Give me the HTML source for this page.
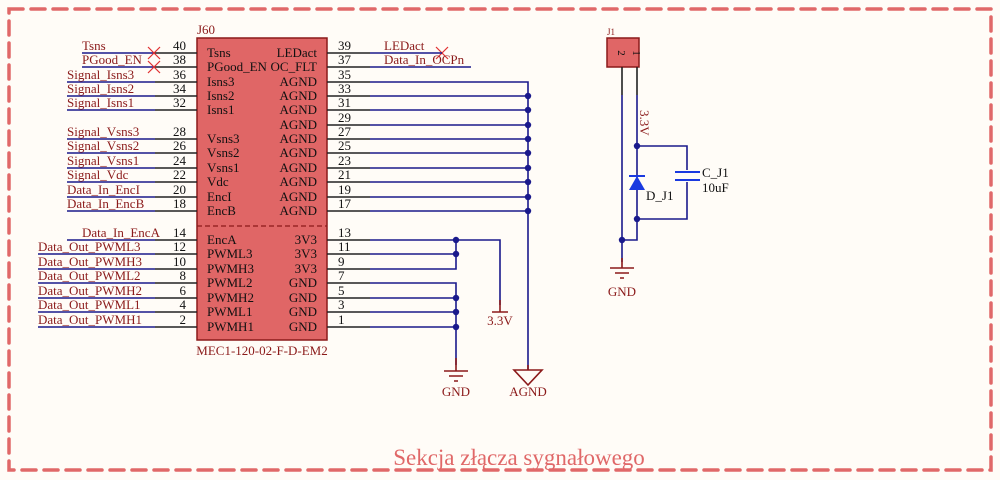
<!DOCTYPE html>
<html><head><meta charset="utf-8"><style>
html,body{margin:0;padding:0;background:#fffcf7;}
svg{display:block;font-family:"Liberation Serif",serif;}
.t{font-size:13px;fill:#8b1a1a}
.n{font-size:13px;fill:#111}
.w{stroke:#1a1a8c;stroke-width:1.6;fill:none}
.p{stroke:#222;stroke-width:1.6}
.r{stroke:#8b1a1a;stroke-width:1.6;fill:none}
.d{fill:#1a1a8c}
</style></head><body>
<svg width="1000" height="480" viewBox="0 0 1000 480">
<rect x="9" y="9" width="982" height="461" fill="none" stroke="#e06868" stroke-width="3.5" stroke-dasharray="14 8" stroke-linecap="round"/>
<text x="519" y="465" text-anchor="middle" font-size="23" fill="#e06868">Sekcja złącza sygnałowego</text>

<rect x="197" y="38" width="130" height="302" fill="#e06666" stroke="#8b1a1a" stroke-width="1.5"/>
<line x1="197" y1="226" x2="327" y2="226" stroke="#8b1a1a" stroke-width="1.3" stroke-dasharray="5 3"/>
<text x="197" y="34" class="t">J60</text>
<text x="262" y="355" class="t" text-anchor="middle">MEC1-120-02-F-D-EM2</text>

<g>
<line x1="155" y1="53" x2="197" y2="53" class="p"/><line x1="82" y1="53" x2="155" y2="53" class="w"/>
<line x1="155" y1="67" x2="197" y2="67" class="p"/><line x1="82" y1="67" x2="155" y2="67" class="w"/>
<line x1="155" y1="82" x2="197" y2="82" class="p"/><line x1="67" y1="82" x2="155" y2="82" class="w"/>
<line x1="155" y1="96" x2="197" y2="96" class="p"/><line x1="67" y1="96" x2="155" y2="96" class="w"/>
<line x1="155" y1="110" x2="197" y2="110" class="p"/><line x1="67" y1="110" x2="155" y2="110" class="w"/>
<line x1="155" y1="139" x2="197" y2="139" class="p"/><line x1="67" y1="139" x2="155" y2="139" class="w"/>
<line x1="155" y1="153" x2="197" y2="153" class="p"/><line x1="67" y1="153" x2="155" y2="153" class="w"/>
<line x1="155" y1="168" x2="197" y2="168" class="p"/><line x1="67" y1="168" x2="155" y2="168" class="w"/>
<line x1="155" y1="182" x2="197" y2="182" class="p"/><line x1="67" y1="182" x2="155" y2="182" class="w"/>
<line x1="155" y1="197" x2="197" y2="197" class="p"/><line x1="67" y1="197" x2="155" y2="197" class="w"/>
<line x1="155" y1="211" x2="197" y2="211" class="p"/><line x1="67" y1="211" x2="155" y2="211" class="w"/>
<line x1="155" y1="240" x2="197" y2="240" class="p"/><line x1="67" y1="240" x2="155" y2="240" class="w"/>
<line x1="155" y1="254" x2="197" y2="254" class="p"/><line x1="38" y1="254" x2="155" y2="254" class="w"/>
<line x1="155" y1="269" x2="197" y2="269" class="p"/><line x1="38" y1="269" x2="155" y2="269" class="w"/>
<line x1="155" y1="283" x2="197" y2="283" class="p"/><line x1="38" y1="283" x2="155" y2="283" class="w"/>
<line x1="155" y1="298" x2="197" y2="298" class="p"/><line x1="38" y1="298" x2="155" y2="298" class="w"/>
<line x1="155" y1="312" x2="197" y2="312" class="p"/><line x1="38" y1="312" x2="155" y2="312" class="w"/>
<line x1="155" y1="327" x2="197" y2="327" class="p"/><line x1="38" y1="327" x2="155" y2="327" class="w"/>
</g>
<g class="n" text-anchor="end">
<text x="186" y="50">40</text><text x="186" y="64">38</text><text x="186" y="79">36</text><text x="186" y="93">34</text><text x="186" y="107">32</text>
<text x="186" y="136">28</text><text x="186" y="150">26</text><text x="186" y="165">24</text><text x="186" y="179">22</text><text x="186" y="194">20</text><text x="186" y="208">18</text>
<text x="186" y="237">14</text><text x="186" y="251">12</text><text x="186" y="266">10</text><text x="186" y="280">8</text><text x="186" y="295">6</text><text x="186" y="309">4</text><text x="186" y="324">2</text>
</g>
<g class="t">
<text x="82" y="50">Tsns</text><text x="82" y="64">PGood_EN</text>
<text x="67" y="79">Signal_Isns3</text><text x="67" y="93">Signal_Isns2</text><text x="67" y="107">Signal_Isns1</text>
<text x="67" y="136">Signal_Vsns3</text><text x="67" y="150">Signal_Vsns2</text><text x="67" y="165">Signal_Vsns1</text><text x="67" y="179">Signal_Vdc</text>
<text x="67" y="194">Data_In_EncI</text><text x="67" y="208">Data_In_EncB</text>
<text x="82" y="237">Data_In_EncA</text>
<text x="38" y="251">Data_Out_PWML3</text><text x="38" y="266">Data_Out_PWMH3</text><text x="38" y="280">Data_Out_PWML2</text><text x="38" y="295">Data_Out_PWMH2</text><text x="38" y="309">Data_Out_PWML1</text><text x="38" y="324">Data_Out_PWMH1</text>
</g>
<g stroke="#e03030" stroke-width="1.2">
<line x1="148" y1="47" x2="160" y2="59"/><line x1="160" y1="47" x2="148" y2="59"/>
<line x1="148" y1="61" x2="160" y2="73"/><line x1="160" y1="61" x2="148" y2="73"/>
<line x1="436" y1="47" x2="448" y2="59"/><line x1="448" y1="47" x2="436" y2="59"/>
</g>
<g style="font-size:13px;fill:#111">
<text x="207" y="57">Tsns</text><text x="207" y="71">PGood_EN</text><text x="207" y="86">Isns3</text><text x="207" y="100">Isns2</text><text x="207" y="114">Isns1</text>
<text x="207" y="143">Vsns3</text><text x="207" y="157">Vsns2</text><text x="207" y="172">Vsns1</text><text x="207" y="186">Vdc</text><text x="207" y="201">EncI</text><text x="207" y="215">EncB</text>
<text x="207" y="244">EncA</text><text x="207" y="258">PWML3</text><text x="207" y="273">PWMH3</text><text x="207" y="287">PWML2</text><text x="207" y="302">PWMH2</text><text x="207" y="316">PWML1</text><text x="207" y="331">PWMH1</text>
</g>
<g style="font-size:13px;fill:#111" text-anchor="end">
<text x="317" y="57">LEDact</text><text x="317" y="71">OC_FLT</text>
<text x="317" y="86">AGND</text><text x="317" y="100">AGND</text><text x="317" y="114">AGND</text><text x="317" y="129">AGND</text><text x="317" y="143">AGND</text><text x="317" y="157">AGND</text><text x="317" y="172">AGND</text><text x="317" y="186">AGND</text><text x="317" y="201">AGND</text><text x="317" y="215">AGND</text>
<text x="317" y="244">3V3</text><text x="317" y="258">3V3</text><text x="317" y="273">3V3</text><text x="317" y="287">GND</text><text x="317" y="302">GND</text><text x="317" y="316">GND</text><text x="317" y="331">GND</text>
</g>
<g class="p">
<line x1="327" y1="53" x2="370" y2="53"/><line x1="327" y1="67" x2="370" y2="67"/><line x1="327" y1="82" x2="370" y2="82"/><line x1="327" y1="96" x2="370" y2="96"/><line x1="327" y1="110" x2="370" y2="110"/><line x1="327" y1="125" x2="370" y2="125"/><line x1="327" y1="139" x2="370" y2="139"/><line x1="327" y1="153" x2="370" y2="153"/><line x1="327" y1="168" x2="370" y2="168"/><line x1="327" y1="182" x2="370" y2="182"/><line x1="327" y1="197" x2="370" y2="197"/><line x1="327" y1="211" x2="370" y2="211"/>
<line x1="327" y1="240" x2="370" y2="240"/><line x1="327" y1="254" x2="370" y2="254"/><line x1="327" y1="269" x2="370" y2="269"/><line x1="327" y1="283" x2="370" y2="283"/><line x1="327" y1="298" x2="370" y2="298"/><line x1="327" y1="312" x2="370" y2="312"/><line x1="327" y1="327" x2="370" y2="327"/>
</g>
<g class="n">
<text x="338" y="50">39</text><text x="338" y="64">37</text><text x="338" y="79">35</text><text x="338" y="93">33</text><text x="338" y="107">31</text><text x="338" y="122">29</text><text x="338" y="136">27</text><text x="338" y="150">25</text><text x="338" y="165">23</text><text x="338" y="179">21</text><text x="338" y="194">19</text><text x="338" y="208">17</text>
<text x="338" y="237">13</text><text x="338" y="251">11</text><text x="338" y="266">9</text><text x="338" y="280">7</text><text x="338" y="295">5</text><text x="338" y="309">3</text><text x="338" y="324">1</text>
</g>
<g class="t"><text x="384" y="50">LEDact</text><text x="384" y="64">Data_In_OCPn</text></g>
<g class="w">
<line x1="370" y1="53" x2="442" y2="53"/><line x1="370" y1="67" x2="471" y2="67"/>
<path d="M370 82H528V370"/>
<path d="M370 96H528M370 110H528M370 125H528M370 139H528M370 153H528M370 168H528M370 182H528M370 197H528M370 211H528"/>
<path d="M370 240H500V305M370 254H456M370 269H456V240"/>
<path d="M370 283H456V365M370 298H456M370 312H456M370 327H456"/>
</g>
<g class="d">
<circle cx="528" cy="96" r="3.2"/><circle cx="528" cy="110" r="3.2"/><circle cx="528" cy="125" r="3.2"/><circle cx="528" cy="139" r="3.2"/><circle cx="528" cy="153" r="3.2"/><circle cx="528" cy="168" r="3.2"/><circle cx="528" cy="182" r="3.2"/><circle cx="528" cy="197" r="3.2"/><circle cx="528" cy="211" r="3.2"/>
<circle cx="456" cy="240" r="3.2"/><circle cx="456" cy="254" r="3.2"/>
<circle cx="456" cy="298" r="3.2"/><circle cx="456" cy="312" r="3.2"/><circle cx="456" cy="327" r="3.2"/>
</g>
<path class="r" d="M500 300V312M492 312H508"/>
<text x="500" y="325" class="t" text-anchor="middle">3.3V</text>
<path class="r" d="M456 358V371M444 371H468M449 376H463M454 381H458"/>
<text x="456" y="396" class="t" text-anchor="middle">GND</text>
<path class="r" d="M528 365V370M514 370H542L528 385Z"/>
<text x="528" y="396" class="t" text-anchor="middle">AGND</text>

<text x="607" y="35" font-size="9" fill="#8b1a1a">J1</text>
<rect x="607" y="38" width="32" height="29" fill="#e06666" stroke="#8b1a1a" stroke-width="1.5"/>
<text transform="translate(618,53) rotate(90)" font-size="11" fill="#111" text-anchor="middle">2</text>
<text transform="translate(633,53) rotate(90)" font-size="11" fill="#111" text-anchor="middle">1</text>
<path class="p" d="M622 67V95M637 67V95"/>
<path class="w" d="M622 95V262M637 95V240H622M637 146H687V219H637"/>
<text transform="translate(640,110) rotate(90)" class="t" font-size="12">3.3V</text>
<circle class="d" cx="637" cy="146" r="3.2"/><circle class="d" cx="637" cy="219" r="3.2"/><circle class="d" cx="622" cy="240" r="3.2"/>
<path d="M629 190H645L637 176Z" fill="#1a3ae0"/><line x1="629" y1="176" x2="645" y2="176" stroke="#1a3ae0" stroke-width="2"/>
<rect x="676" y="170" width="24" height="12" fill="#fffcf7"/>
<path d="M675 172H700M675 180H700" stroke="#1a3ae0" stroke-width="2"/>
<text x="646" y="200" class="t" style="fill:#111">D_J1</text>
<text x="702" y="177" class="t" style="fill:#111">C_J1</text>
<text x="702" y="192" class="t" style="fill:#111">10uF</text>
<path class="r" d="M622 258V268M610 268H634M615 273H629M620 278H624"/>
<text x="622" y="296" class="t" text-anchor="middle">GND</text>
</svg>
</body></html>
